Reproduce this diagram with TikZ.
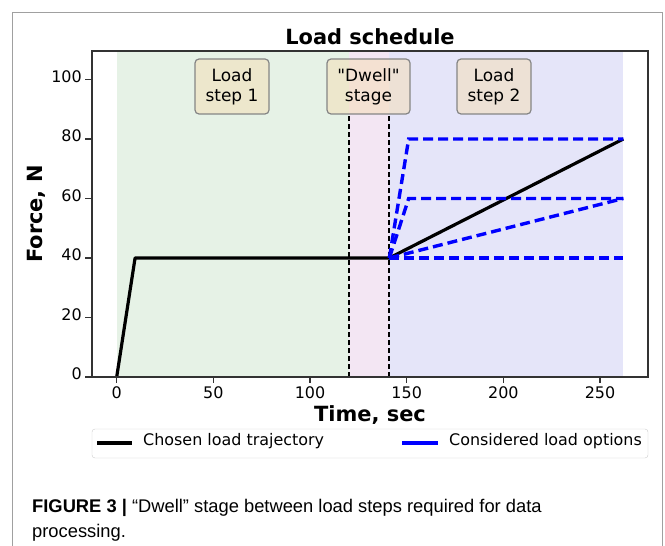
\documentclass[tikz,border=0pt]{standalone}
\usepackage{fontspec}
\setmainfont{DejaVu Sans}
\newfontfamily\captionfont{Liberation Sans}
\usepackage{xcolor}
\definecolor{spine}     {HTML}{333333}
\definecolor{outerframe}{HTML}{A0A0A0}
\definecolor{holdgreen} {HTML}{E6F2E6}
\definecolor{dwellpink} {HTML}{F3E6F3}
\definecolor{steptwo}   {HTML}{E5E5F9}
\definecolor{wheat}     {HTML}{F5DEB3}
\definecolor{boxedge}   {HTML}{858585}
\definecolor{optblue}   {HTML}{0000FF}
\definecolor{legendedge}{HTML}{CCCCCC}
\usetikzlibrary{positioning}
\newcommand{\straightquote}{\XeTeXglyph\XeTeXcharglyph"0022\relax}

\begin{document}
\begin{tikzpicture}[x=1bp, y=-1bp,
    every node/.style={inner sep=0pt, font=\fontsize{16}{19}\selectfont},
    tick/.style={spine, line width=1.3bp},
    stagebox/.style={draw=boxedge, line width=1.2bp, fill=wheat, fill opacity=0.5,
                     draw opacity=1, text opacity=1,
                     rounded corners=4bp, minimum width=74bp, minimum height=55bp,
                     align=center, font=\fontsize{17}{20}\selectfont},
    chosen/.style={line width=3.2bp, black, line join=round},
    option/.style={line width=3.4bp, optblue, dash pattern=on 10bp off 5bp},
    stageline/.style={line width=1.9bp, black, dash pattern=on 5bp off 3bp},
    bigbold/.style={font=\fontsize{21}{25}\selectfont\bfseries}]

    \useasboundingbox (0,0) rectangle (665,546);

    % --- outer figure frame, open at the bottom
    \draw[outerframe, line width=1.5bp] (12.5,546) |- (662.5,12.5) -- (662.5,546);

    % --- plot area: time along x, force along y
    \begin{scope}[shift={(116.7,377)}, xscale=1.9333, yscale=-2.975]
        \fill[holdgreen] (0,0) rectangle (120,109.6);
        \fill[dwellpink] (120,0) rectangle (141,109.6);
        \fill[steptwo] (141,0) rectangle (262,109.6);

        \draw[stageline] (120,0) -- (120,88);
        \draw[stageline] (141,0) -- (141,88);

        \coordinate (start) at (0,0);
        \coordinate (ramp)  at (9.5,40);
        \coordinate (dwell) at (141,40);
        \coordinate (up80)  at (151,80);
        \coordinate (up60)  at (151,60);
        \coordinate (end80) at (262,80);
        \coordinate (end60) at (262,60);
        \coordinate (end40) at (262,40);

        \draw[chosen] (start) -- (ramp) -- (dwell) -- (end80);

        \draw[option] (dwell) -- (up80) -- (end80);
        \draw[option] (dwell) -- (up60) -- (end60);
        \draw[option] (dwell) -- (end60);
        \draw[option] (dwell) -- (end40);

        \foreach \t in {0,50,...,250} {
            \draw[tick] (\t,0) -- (\t,-2);
            \node[anchor=base] (xt\t) at (\t,-7.1) {\t};
        }
        \foreach \f in {0,20,...,100} {
            \draw[tick] (-13.1,\f) -- (-16.2,\f);
            \node[anchor=mid east] (yt\f) at (-18,\f) {\f};
        }
    \end{scope}

    \draw[spine, line width=1.3bp] (92,51) rectangle (648,377);

    % --- stage labels
    \node[stagebox] (stepone) at (232,86.5) {Load\\step 1};
    \node[stagebox, minimum width=83bp] (dwellbox) at (368.5,86.5)
        {\straightquote Dwell\straightquote\\stage};
    \node[stagebox] (steptwo) at (494,86.5) {Load\\step 2};

    % --- titles
    \node[bigbold, anchor=base] (title) at (370,45) {Load schedule};
    \node[bigbold, anchor=base] (xlabel) at (370,421) {Time, sec};
    \node[bigbold, rotate=90] (ylabel) at (36,214) {Force, N};

    % --- legend
    \draw[legendedge, fill=white, rounded corners=3bp] (92,429) rectangle (648,458);
    \draw[chosen] (97,443) -- (132,443) coordinate (chosenend);
    \node[right=11bp of chosenend, anchor=mid west] (chosenlbl) {Chosen load trajectory};
    \draw[optblue, line width=3.4bp] (402,443) -- (438,443) coordinate (optionend);
    \node[right=11bp of optionend, anchor=mid west] (optionlbl) {Considered load options};

    % --- caption
    \node[anchor=base west, font=\captionfont\fontsize{18.4}{25}\selectfont] (capone) at (32,512)
        {\textbf{FIGURE 3 |} “Dwell” stage between load steps required for data};
    \node[anchor=base west, font=\captionfont\fontsize{18.4}{25}\selectfont] (captwo) at (32,537)
        {processing.};
\end{tikzpicture}
\end{document}
